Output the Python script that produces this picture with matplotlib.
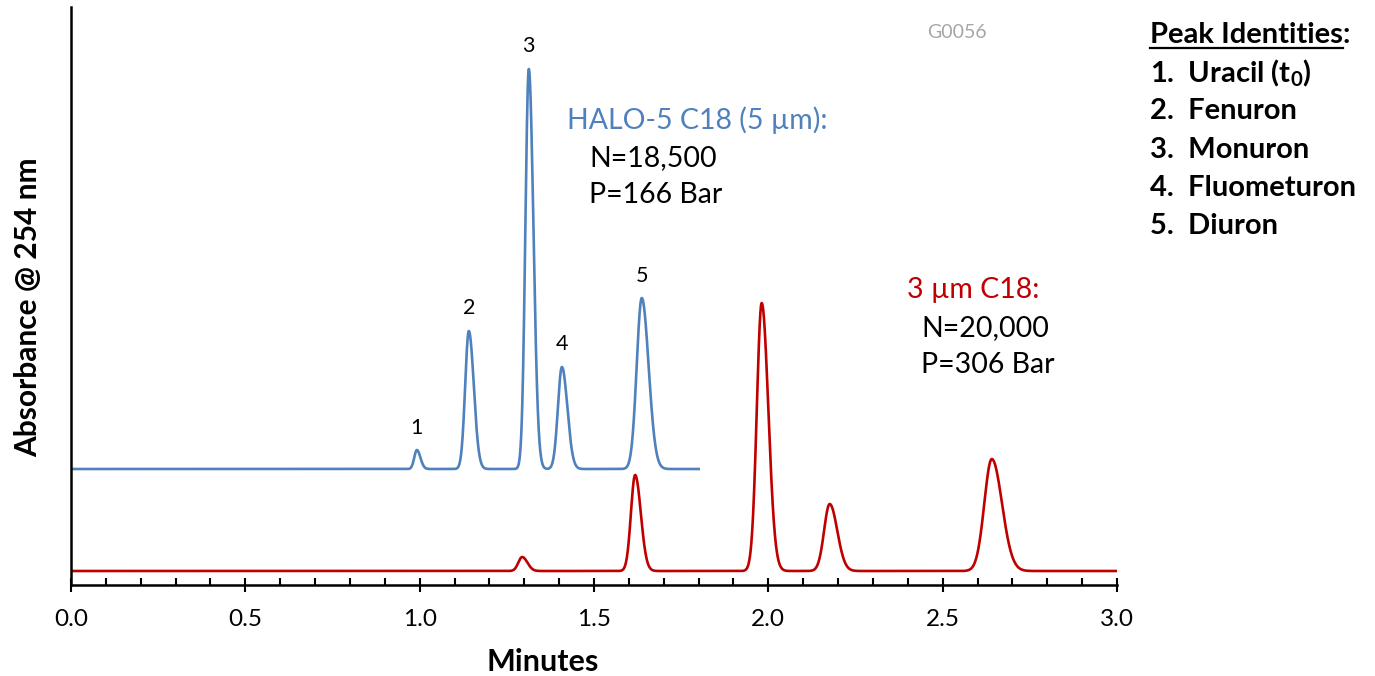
import matplotlib
matplotlib.use("Agg")
import matplotlib.pyplot as plt
import numpy as np

plt.rcParams['font.family'] = ['Lato', 'DejaVu Sans']
plt.rcParams['mathtext.fontset'] = 'custom'
plt.rcParams['mathtext.rm'] = 'Lato'
plt.rcParams['mathtext.bf'] = 'Lato:bold'

# HALO-5 C18 (5 um) peaks: retention time (min), height, sigma (min)
halo_rt = [0.992, 1.141, 1.313, 1.408, 1.637]
halo_height = [19, 138, 400, 102, 171]
halo_sigma = [0.0075, 0.0105, 0.0098, 0.0115, 0.0145]
halo_labels = ["1", "2", "3", "4", "5"]
halo_end = 1.80

# 3 um C18 peaks
c18_rt = [1.294, 1.618, 1.981, 2.176, 2.641]
c18_height = [14, 96, 268, 67, 112]
c18_sigma = [0.011, 0.012, 0.0140, 0.0160, 0.0215]
c18_end = 3.0

# vertical offsets of the two traces (arbitrary absorbance units)
halo_base = 116
c18_base = 14

peak_names = ["Uracil (t$_\\mathbf{0}$)", "Fenuron", "Monuron", "Fluometuron", "Diuron"]

blue = "#4f81bd"
red = "#c00000"


def trace(t, rts, heights, sigmas, tail=1.35):
    # bi-gaussian peaks, slightly tailing on the right
    y = np.zeros_like(t)
    for rt, h, s in zip(rts, heights, sigmas):
        sig = np.where(t < rt, s, s * tail)
        y += h * np.exp(-0.5 * ((t - rt) / sig) ** 2)
    return y


fig = plt.figure(figsize=(13.75, 6.76), dpi=100)
ax = fig.add_axes([71 / 1375, 1 - 585 / 676, (1117 - 71) / 1375, (585 - 7) / 676])

t_halo = np.linspace(0, halo_end, 4000)
t_c18 = np.linspace(0, c18_end, 6000)
ax.plot(t_c18, c18_base + trace(t_c18, c18_rt, c18_height, c18_sigma), color=red, lw=1.9)
ax.plot(t_halo, halo_base + trace(t_halo, halo_rt, halo_height, halo_sigma), color=blue, lw=1.9)

for rt, h, lab in zip(halo_rt, halo_height, halo_labels):
    ax.annotate(lab, (rt, halo_base + h), xytext=(0, 9), textcoords="offset points",
                ha="center", va="bottom", fontsize=15.5)

ax.set_xlim(0, 3.0)
ax.set_ylim(0, 578)
ax.set_xticks(np.arange(0, 3.01, 0.5))
ax.set_xticks(np.arange(0, 3.01, 0.1), minor=True)
ax.xaxis.set_major_formatter(matplotlib.ticker.FormatStrFormatter("%.1f"))
ax.tick_params(axis="x", which="major", direction="inout", length=10, width=1.5, labelsize=17.5, pad=12)
ax.tick_params(axis="x", which="minor", direction="in", length=5, width=1.5)
ax.set_yticks([])
for side in ["top", "right"]:
    ax.spines[side].set_visible(False)
ax.spines["left"].set_linewidth(1.8)
ax.spines["bottom"].set_linewidth(1.8)

ax.set_xlabel("Minutes", fontsize=22, fontweight="bold", va="center")
ax.xaxis.set_label_coords(0.451, -77 / 578)
ax.set_ylabel("Absorbance @ 254 nm", fontsize=21.5, fontweight="bold", va="center")
ax.yaxis.set_label_coords(-43 / 1046, 0.481)

ax.text(1.422, 465, "HALO-5 C18 (5 µm):", color=blue, fontsize=20.5, va="center")
ax.text(1.486, 427, "N=18,500", fontsize=20.5, va="center")
ax.text(1.486, 390, "P=166 Bar", fontsize=20.5, va="center")

ax.text(2.398, 295, "3 µm C18:", color=red, fontsize=20.5, va="center")
ax.text(2.438, 257, "N=20,000", fontsize=20.5, va="center")
ax.text(2.438, 220, "P=306 Bar", fontsize=20.5, va="center")

ax.text(2.455, 553, "G0056", color="#a6a6a6", fontsize=14, va="center")

# peak identities list
x0 = 1150 / 1375
fs = 21
hdr = fig.text(x0, 1 - 35 / 676, "Peak Identities", fontsize=fs, fontweight="bold", va="center")
fig.canvas.draw()
bb = hdr.get_window_extent().transformed(fig.transFigure.inverted())
fig.text(bb.x1, 1 - 35 / 676, ":", fontsize=fs, fontweight="bold", va="center")
fig.add_artist(plt.Line2D([bb.x0, bb.x1], [1 - 48 / 676] * 2, color="black", lw=1.6,
                          transform=fig.transFigure))
for i, name in enumerate(peak_names):
    fig.text(x0, 1 - (73 + 38.3 * i) / 676, f"{i + 1}.  {name}", fontsize=fs,
             fontweight="bold", va="center")

fig.savefig("out.png", dpi=100)
